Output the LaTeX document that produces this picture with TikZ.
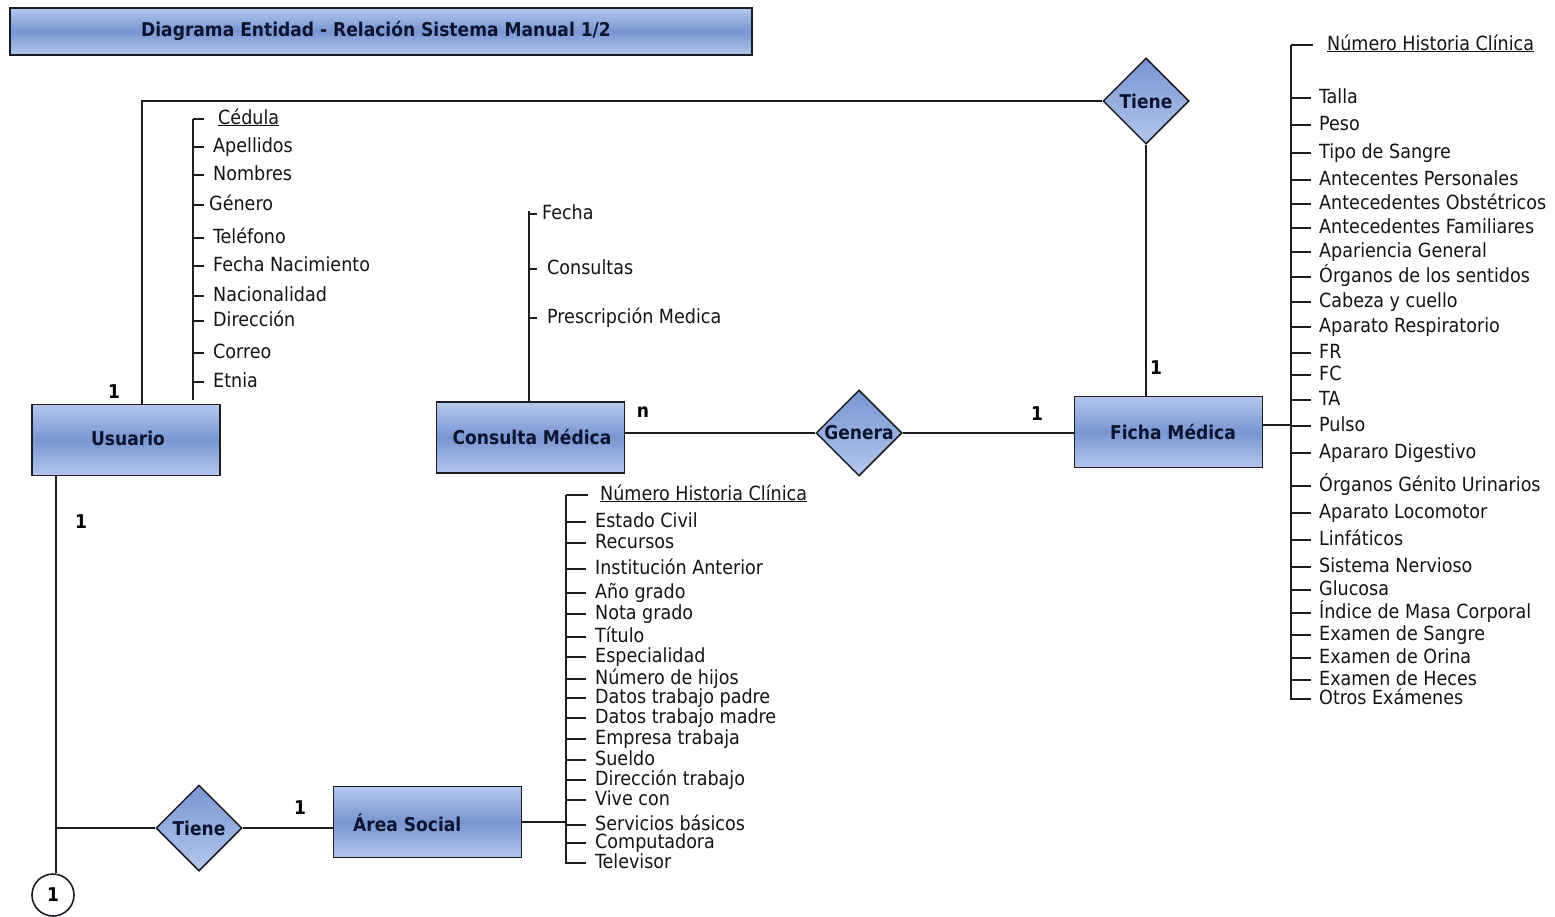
\documentclass[tikz,border=0pt]{standalone}
\usepackage{fontspec}
\setmainfont{DejaVu Sans Condensed}
\usetikzlibrary{shapes.geometric}
\definecolor{boxlight}{RGB}{180,199,236}
\definecolor{boxmid}{RGB}{120,150,210}
\definecolor{ink}{RGB}{14,20,46}
\definecolor{edge}{RGB}{28,28,34}
\begin{document}
\begin{tikzpicture}[x=1pt,y=-1pt,
  entity/.style={draw=edge, line width=1.8pt, minimum width=188pt, minimum height=71pt,
    inner sep=0pt, top color=boxlight, bottom color=boxlight, middle color=boxmid},
  rel/.style={diamond, draw=edge, line width=1.5pt, minimum width=86pt, minimum height=86pt,
    inner sep=0pt, aspect=1, top color=boxmid, bottom color=boxlight},
  etext/.style={font=\fontsize{19}{21}\selectfont\bfseries, text=ink, inner sep=0pt},
  attr/.style={anchor=west, inner sep=0pt, text height=14pt, text depth=4pt,
    font=\fontsize{19.5}{22}\selectfont, text=black!92},
  card/.style={font=\fontsize{19}{21}\selectfont\bfseries, inner sep=0pt},
  conn/.style={line width=1.7pt, draw=edge},
]
\useasboundingbox (0,0) rectangle (1555,916);
\fill[white] (0,0) rectangle (1555,916);

% title bar
\node[entity, minimum width=742pt, minimum height=47pt] (title) at (381,31.5) {};
\node[etext] (titleT) at (376,31) {Diagrama Entidad - Relación Sistema Manual 1/2};

% entities
\node[entity] (usr) at (126,440) {};
\node[etext] (usrT) at (128,438) {Usuario};
\node[entity] (cm) at (530.5,437.5) {};
\node[etext] (cmT) at (532,437) {Consulta Médica};
\node[entity] (fm) at (1168.5,432) {};
\node[etext] (fmT) at (1173,432) {Ficha Médica};
\node[entity] (as) at (427.5,822) {};
\node[etext, anchor=west] (asT) at (353,823) {Área Social};

% relationships
\node[rel] (t1) at (1146,101) {};
\node[etext] (t1T) at (t1) {Tiene};
\node[rel] (gen) at (859,433) {};
\node[etext] (genT) at (gen) {Genera};
\node[rel] (t2) at (199,828) {};
\node[etext] (t2T) at (t2) {Tiene};

% off-page connector
\node[draw=edge, circle, line width=1.6pt, minimum size=42pt, inner sep=0pt, fill=white,
  font=\fontsize{19}{21}\selectfont\bfseries] (c1) at (53,895) {1};

% relationship lines
\draw[conn] ([xshift=16pt]usr.north) |- (t1.west);
\draw[conn] (t1.south) -- (t1.south |- fm.north);
\draw[conn] (cm.east |- gen.west) -- (gen.west);
\draw[conn] (gen.east) -- (gen.east -| fm.west);
\coordinate (ud) at ([xshift=-70pt]usr.south);
\draw[conn] (ud) -- (ud |- c1.north);
\draw[conn] (ud |- t2.west) -- (t2.west);
\draw[conn] (t2.east) -- (t2.east -| as.west);

% cardinalities
\node[card] (k1) at (114,392) {1};
\node[card] (k2) at (81,522) {1};
\node[card] (k3) at (643,412) {n};
\node[card] (k4) at (1037,414) {1};
\node[card] (k5) at (1156,368) {1};
\node[card] (k6) at (300,808) {1};

% Usuario attributes
\coordinate (ubar) at (193,119);
\draw[conn] (ubar) -- (193,400);
\foreach \t/\x/\y [count=\i] in {{\underline{Cédula}}/218/119, Apellidos/213/147,
  Nombres/213/175, Género/209/205, Teléfono/213/238, Fecha Nacimiento/213/266,
  Nacionalidad/213/296, Dirección/213/321, Correo/213/353, Etnia/213/382}{
  \node[attr] (ua\i) at (\x,\y) {\t};
  \draw[conn] (ubar |- ua\i.west) -- ++(11,0);
}

% Consulta Medica attributes
\coordinate (cbar) at (529,211);
\draw[conn] (cbar) -- (cbar |- cm.north);
\foreach \t/\x/\y [count=\i] in {Fecha/542/214, Consultas/547/269, Prescripción Medica/547/318}{
  \node[attr] (ca\i) at (\x,\y) {\t};
  \draw[conn] (cbar |- ca\i.west) -- ++(8,0);
}

% Ficha Medica attributes
\coordinate (fbar) at (1291,45);
\draw[conn] (fbar) -- (1291,699) -- (1311,699);
\draw[conn] ([yshift=7pt]fm.east) -- ([yshift=7pt]fm.east -| fbar);
\node[attr] (fa0) at (1327,45) {\underline{Número Historia Clínica}};
\draw[conn] (fbar) -- ++(22,0);
\foreach \t/\y [count=\i] in {Talla/98, Peso/125, Tipo de Sangre/153,
  Antecentes Personales/180, Antecedentes Obstétricos/204, Antecedentes Familiares/228,
  Apariencia General/252, Órganos de los sentidos/277, Cabeza y cuello/302,
  Aparato Respiratorio/327, FR/353, FC/375, TA/400, Pulso/426, Apararo Digestivo/453,
  Órganos Génito Urinarios/486, Aparato Locomotor/513, Linfáticos/540,
  Sistema Nervioso/567, Glucosa/590, Índice de Masa Corporal/613,
  Examen de Sangre/635, Examen de Orina/658, Examen de Heces/680, Otros Exámenes/699}{
  \node[attr] (fa\i) at (1319,\y) {\t};
  \draw[conn] (fbar |- fa\i.west) -- ++(20,0);
}

% Area Social attributes
\coordinate (abar) at (566,495);
\draw[conn] (abar) -- (566,863) -- (586,863);
\draw[conn] (as.east) -- (as.east -| abar);
\node[attr] (aa0) at (600,495) {\underline{Número Historia Clínica}};
\draw[conn] (abar) -- ++(22,0);
\foreach \t/\y [count=\i] in {Estado Civil/522, Recursos/543, Institución Anterior/569,
  Año grado/593, Nota grado/614, Título/637, Especialidad/657, Número de hijos/679,
  Datos trabajo padre/698, Datos trabajo madre/718, Empresa trabaja/739, Sueldo/760,
  Dirección trabajo/780, Vive con/800, Servicios básicos/825, Computadora/843,
  Televisor/863}{
  \node[attr] (aa\i) at (595,\y) {\t};
  \draw[conn] (abar |- aa\i.west) -- ++(20,0);
}
\end{tikzpicture}
\end{document}
